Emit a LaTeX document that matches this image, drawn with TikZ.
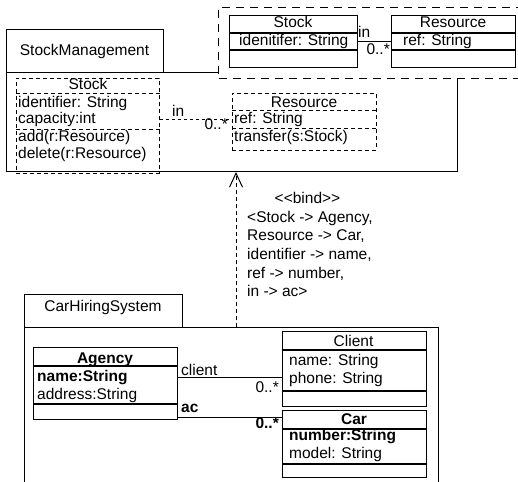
\documentclass[tikz,border=0pt]{standalone}
\usepackage{fontspec}
\setmainfont{Liberation Sans}
\usetikzlibrary{arrows.meta}

\begin{document}
\begin{tikzpicture}[x=1pt,y=-1pt,
  txt/.style={inner sep=0pt, font=\fontsize{15.5}{18}\selectfont},
  txtb/.style={inner sep=0pt, font=\fontsize{15.5}{18}\selectfont\bfseries},
  lbl/.style={txt, anchor=base west},
  lblb/.style={txtb, anchor=base west},
  ctr/.style={txt, anchor=base},
  ctrb/.style={txtb, anchor=base},
  mult/.style={txt, anchor=base east},
  multb/.style={txtb, anchor=base east},
  pkg/.style={draw, line width=1pt, fill=white, inner sep=0pt, anchor=north west},
  cls/.style={draw, line width=1.2pt, fill=white, inner sep=0pt, anchor=north west},
  dcls/.style={draw, line width=0.9pt, dash pattern=on 4pt off 3pt, inner sep=0pt, anchor=north west},
  tplbox/.style={draw, line width=1pt, dash pattern=on 8pt off 6pt, fill=white, inner sep=0pt, anchor=north west},
  sep/.style={line width=1.1pt},
  dsep/.style={line width=0.9pt, dash pattern=on 4pt off 3pt},
  assoc/.style={line width=1pt},
  dassoc/.style={line width=0.9pt, dash pattern=on 3pt off 3pt},
  bindarrow/.style={line width=0.9pt, dash pattern=on 4pt off 3pt,
    -{Straight Barb[length=14pt,width=13pt,line width=1pt]}},
]
\useasboundingbox (0,0) rectangle (518,481);

% ---------- package StockManagement ----------
\node[pkg, minimum width=451pt, minimum height=99pt] (smbody) at (6,72) {};
\node[pkg, minimum width=157pt, minimum height=43pt] (smtab) at (6,29) {};
\node[ctr] (smname) at (84.5,56) {StockManagement};

% template parameter box
\node[tplbox, minimum width=320pt, minimum height=71pt] (tpl) at (218,7) {};

\node[cls, minimum width=128pt, minimum height=52pt] (tstock) at (229,15) {};
\draw[sep] (tstock.west |- 0,33) -- (tstock.east |- 0,33);
\draw[sep] (tstock.west |- 0,50) -- (tstock.east |- 0,50);
\node[ctr] (tstockname) at (293,28) {Stock};
\node[lbl] (tstockattr) at (239,46) {idenitifer: String};

\node[cls, minimum width=124pt, minimum height=52pt] (tres) at (391,15) {};
\draw[sep] (tres.west |- 0,33) -- (tres.east |- 0,33);
\draw[sep] (tres.west |- 0,50) -- (tres.east |- 0,50);
\node[ctr] (tresname) at (453,28) {Resource};
\node[lbl] (tresattr) at (403,46) {ref: String};

\draw[assoc] (tstock.east |- 0,42) -- (tres.west |- 0,42);
\node[lbl] (tin) at (358,38) {in};
\node[mult] (tmult) at (390,55) {0..*};

% template classes inside the package
\node[dcls, minimum width=143pt, minimum height=95pt] (istock) at (16,78) {};
\draw[dsep] (istock.west |- 0,93) -- (istock.east |- 0,93);
\draw[dsep] (istock.west |- 0,129) -- (istock.east |- 0,129);
\node[ctr] (istockname) at (88,90) {Stock};
\node[lbl] (istocka1) at (18,108) {identifier: String};
\node[lbl] (istocka2) at (18,124) {capacity:int};
\node[lbl] (istocko1) at (18,141) {add(r:Resource)};
\node[lbl] (istocko2) at (18,158) {delete(r:Resource)};

\node[dcls, minimum width=144pt, minimum height=57pt] (ires) at (232,93) {};
\draw[dsep] (ires.west |- 0,110) -- (ires.east |- 0,110);
\draw[dsep] (ires.west |- 0,128) -- (ires.east |- 0,128);
\node[ctr] (iresname) at (304,107.5) {Resource};
\node[lbl] (iresa1) at (234,124) {ref: String};
\node[lbl] (ireso1) at (234,141.5) {transfer(s:Stock)};

\draw[dassoc] (istock.east |- 0,119.5) -- (ires.west |- 0,119.5);
\node[lbl] (iin) at (172,116.5) {in};
\node[mult] (imult) at (228,130) {0..*};

% ---------- package CarHiringSystem ----------
\node[pkg, minimum width=414pt, minimum height=170pt] (chsbody) at (24,327) {};
\node[pkg, minimum width=158pt, minimum height=33pt] (chstab) at (24,294) {};
\node[ctr] (chsname) at (103,311.5) {CarHiringSystem};

\node[cls, minimum width=144pt, minimum height=72pt] (agency) at (33,347) {};
\draw[sep] (agency.west |- 0,366) -- (agency.east |- 0,366);
\draw[sep] (agency.west |- 0,404) -- (agency.east |- 0,404);
\node[ctrb] (agencyname) at (105,363) {Agency};
\node[lblb] (agencya1) at (37,381) {name:String};
\node[lbl] (agencya2) at (37,399) {address:String};

\node[cls, minimum width=144pt, minimum height=75pt] (client) at (281.5,331) {};
\draw[sep] (client.west |- 0,350) -- (client.east |- 0,350);
\draw[sep] (client.west |- 0,391) -- (client.east |- 0,391);
\node[ctr] (clientname) at (353.5,346) {Client};
\node[lbl] (clienta1) at (289,365) {name: String};
\node[lbl] (clienta2) at (289,383.5) {phone: String};

\node[cls, minimum width=144pt, minimum height=67pt] (car) at (282,410) {};
\draw[line width=1.5pt] (car.west |- 0,429) -- (car.east |- 0,429);
\draw[sep] (car.west |- 0,464) -- (car.east |- 0,464);
\node[ctrb] (carname) at (354,424.5) {Car};
\node[lblb] (cara1) at (289,440.5) {number:String};
\node[lbl] (cara2) at (289,458) {model: String};

\draw[assoc] (agency.east |- 0,377) -- (client.west |- 0,377);
\node[lbl] (clientrole) at (181,375) {client};
\node[mult] (clientmult) at (279,392) {0..*};

\draw[assoc] (agency.east |- 0,417.5) -- (car.west |- 0,417.5);
\node[lblb] (acrole) at (181,412.5) {ac};
\node[multb] (acmult) at (279,428) {0..*};

% ---------- template binding ----------
\draw[bindarrow] (chsbody.north -| 236,0) -- (smbody.south -| 236,0);
\node[ctr] (bindst) at (307.5,203) {<\kern0pt<bind>\kern0pt>};
\node[lbl] (bind1) at (247,222) {<Stock -> Agency,};
\node[lbl] (bind2) at (247,240.5) {Resource -> Car,};
\node[lbl] (bind3) at (247,259) {identifier -> name,};
\node[lbl] (bind4) at (247,278) {ref -> number,};
\node[lbl] (bind5) at (247,296.5) {in -> ac>};
\end{tikzpicture}
\end{document}
